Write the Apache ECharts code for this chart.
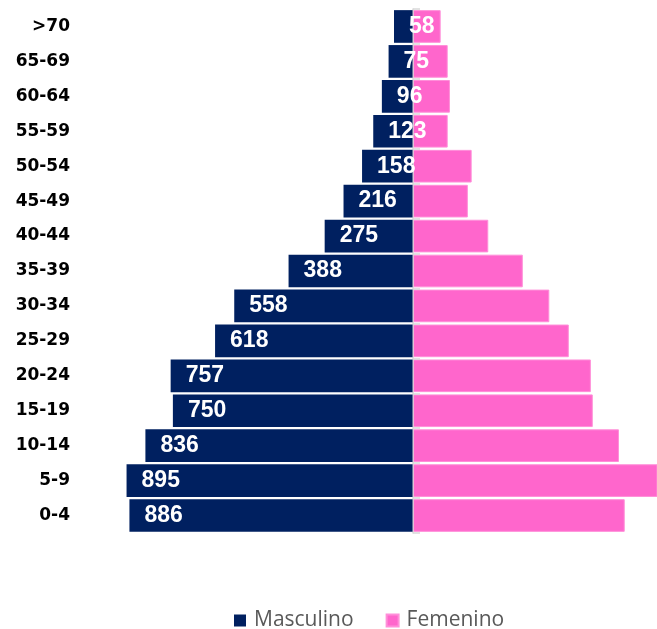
<!DOCTYPE html>
<html>
<head>
<meta charset="utf-8">
<script src="https://cdn.jsdelivr.net/npm/echarts@6/dist/echarts.min.js"></script>
<style>html,body{margin:0;padding:0;background:#fff}#c{width:657px;height:629px}</style>
</head>
<body>
<div id="c"></div>
<script>
const categories = ['>70','65-69','60-64','55-59','50-54','45-49','40-44','35-39','30-34','25-29','20-24','15-19','10-14','5-9','0-4'];
const masculino = [58, 75, 96, 123, 158, 216, 275, 388, 558, 618, 757, 750, 836, 895, 886];
const femenino = [88, 110, 117, 110, 185, 173, 237, 345, 428, 489, 558, 564, 646, 780, 664];

const chart = echarts.init(document.getElementById('c'));
chart.setOption({
  animation: false,
  legend: {
    data: ['Masculino', 'Femenino'],
    left: 229, top: 605,
    itemWidth: 12, itemHeight: 12, itemGap: 32,
    icon: 'rect',
    textStyle: { color: '#595959', fontSize: 21, fontFamily: 'Open Sans', padding: [0, 0, 0, 3] }
  },
  grid: [
    { left: 93, right: 0, top: 9, bottom: 96 },
    { left: 413, right: 0, top: 9, bottom: 96 }
  ],
  xAxis: [
    { type: 'value', min: -1000, max: 765, show: false, gridIndex: 0 },
    { type: 'value', min: 0, max: 100, show: false, gridIndex: 1 }
  ],
  yAxis: [
    {
      type: 'category', data: categories, inverse: true, position: 'left', gridIndex: 0,
      axisLine: { show: false, onZero: false }, axisTick: { show: false },
      axisLabel: { color: '#000', fontSize: 17, fontWeight: 'bold', fontFamily: 'DejaVu Sans', margin: 23 }
    },
    {
      type: 'category', data: categories, inverse: true, position: 'left', gridIndex: 1, z: 2.5,
      axisLine: { show: true, onZero: false, lineStyle: { color: '#d9d9d9', width: 1.5 } },
      axisTick: { show: true, inside: true, length: 7, lineStyle: { color: '#d9d9d9', width: 1.5 } },
      axisLabel: { show: false }
    }
  ],
  series: [
    {
      name: 'Masculino', type: 'bar', xAxisIndex: 0, yAxisIndex: 0, z: 3,
      data: masculino.map(v => -v),
      barCategoryGap: '6.5%', barGap: '-100%',
      itemStyle: { color: '#002060' },
      label: {
        show: true, position: 'insideLeft', distance: 15,
        formatter: p => Math.abs(p.value),
        color: '#fff', fontSize: 23, fontWeight: 'bold', fontFamily: 'Liberation Sans'
      }
    },
    {
      name: 'Femenino', type: 'bar', xAxisIndex: 0, yAxisIndex: 0, z: 2,
      data: femenino,
      barCategoryGap: '6.5%', barGap: '-100%',
      itemStyle: { color: '#FF66CC', borderColor: '#ff8fd9', borderWidth: 1 }
    }
  ]
});
</script>
</body>
</html>
